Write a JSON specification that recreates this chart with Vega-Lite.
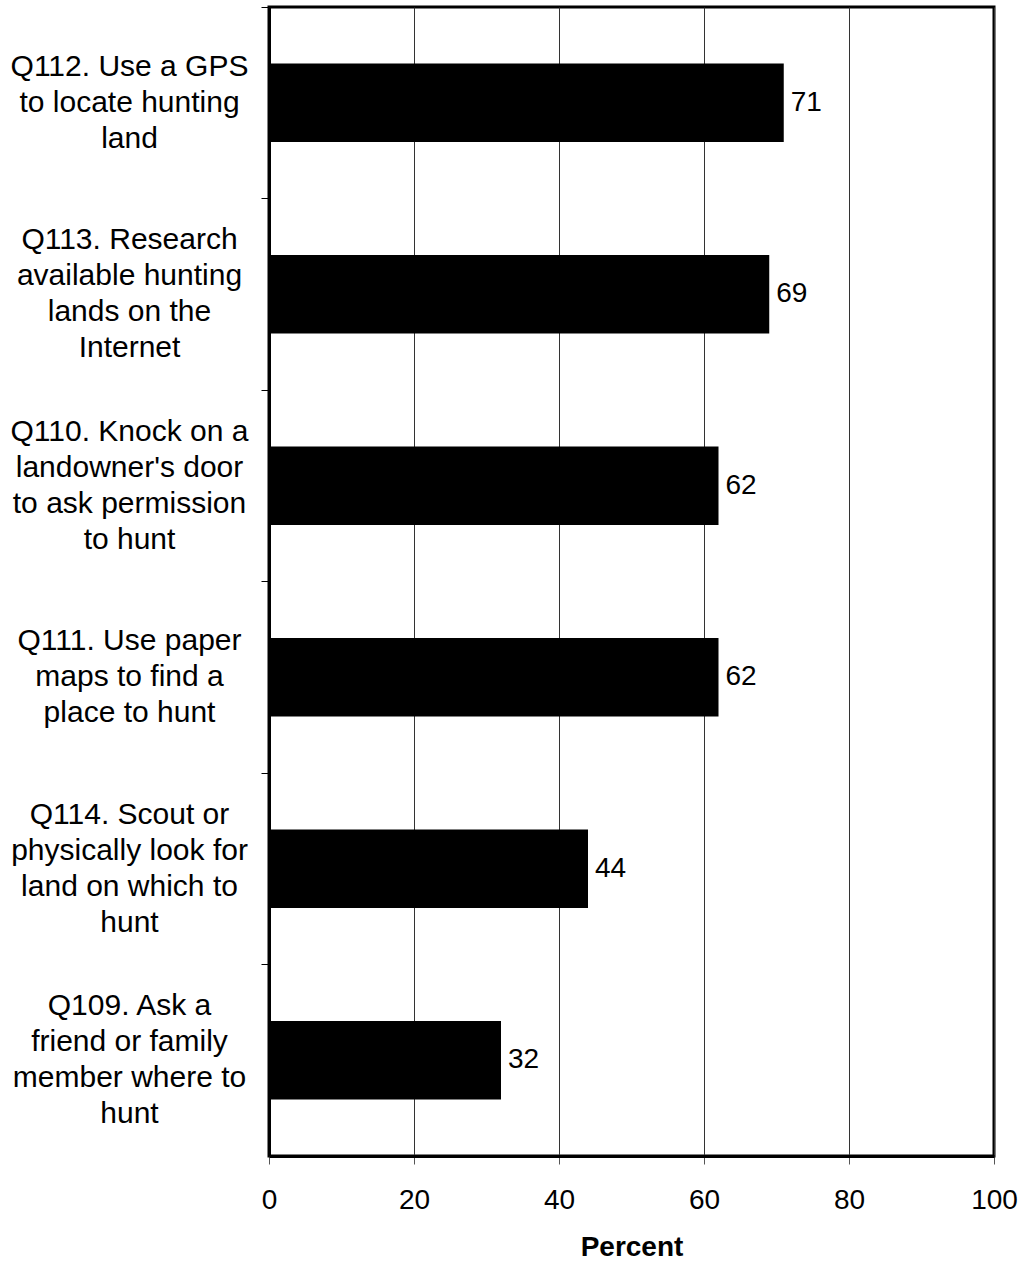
{
  "$schema": "https://vega.github.io/schema/vega-lite/v6.json",
  "width": 725,
  "height": 1149,
  "autosize": {"type": "none"},
  "padding": {"left": 269, "top": 7, "right": 30, "bottom": 108},
  "background": "white",
  "config": {
    "font": "Liberation Sans",
    "view": {"stroke": "black", "strokeWidth": 3},
    "axis": {"labelFont": "Liberation Sans", "titleFont": "Liberation Sans"}
  },
  "data": {
    "values": [
      {"item": "Q112. Use a GPS|to locate hunting|land", "percent": 71},
      {"item": "Q113. Research|available hunting|lands on the|Internet", "percent": 69},
      {"item": "Q110. Knock on a|landowner's door|to ask permission|to hunt", "percent": 62},
      {"item": "Q111. Use paper|maps to find a|place to hunt", "percent": 62},
      {"item": "Q114. Scout or|physically look for|land on which to|hunt", "percent": 44},
      {"item": "Q109. Ask a|friend or family|member where to|hunt", "percent": 32}
    ]
  },
  "encoding": {
    "y": {
      "field": "item",
      "type": "nominal",
      "sort": null,
      "scale": {"paddingInner": 0.59, "paddingOuter": 0.295},
      "axis": {
        "title": null,
        "labelExpr": "split(datum.label, '|')",
        "labelFontSize": 30,
        "labelLineHeight": 36,
        "labelAlign": "center",
        "labelBaseline": "middle",
        "labelOffset": {"expr": "-(length(split(datum.label, '|')) - 1) * 18"},
        "labelPadding": 132,
        "labelColor": "black",
        "labelLimit": 300,
        "tickSize": 8,
        "tickColor": "black",
        "tickWidth": 1,
        "bandPosition": -0.7195,
        "domainColor": "black",
        "domainWidth": 3
      }
    }
  },
  "layer": [
    {
      "mark": {"type": "bar", "color": "black"},
      "encoding": {
        "x": {
          "field": "percent",
          "type": "quantitative",
          "scale": {"domain": [0, 100], "nice": false},
          "axis": {
            "title": "Percent",
            "titleFontSize": 28,
            "titleFontWeight": "bold",
            "titleColor": "black",
            "titlePadding": 19,
            "values": [0, 20, 40, 60, 80, 100],
            "labelFontSize": 28,
            "labelColor": "black",
            "labelPadding": 22,
            "labelFlush": false,
            "tickSize": 8,
            "tickColor": "#555555",
            "tickWidth": 1,
            "domainColor": "black",
            "domainWidth": 3,
            "grid": true,
            "gridColor": "#333333",
            "gridWidth": 1
          }
        }
      }
    },
    {
      "mark": {"type": "text", "align": "left", "baseline": "middle", "dx": 7, "fontSize": 28, "color": "black"},
      "encoding": {
        "x": {"field": "percent", "type": "quantitative"},
        "text": {"field": "percent", "type": "quantitative"}
      }
    }
  ]
}
